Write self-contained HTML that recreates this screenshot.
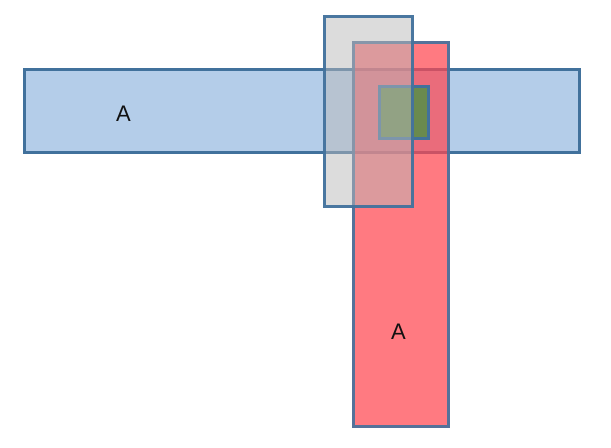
<!DOCTYPE html>
<html><head><style>
body{margin:0;width:611px;height:448px;background:#fff;position:relative;overflow:hidden;font-family:"Liberation Sans",sans-serif}
div.r{position:absolute;box-sizing:border-box;border:3px solid #41719c}
.t{position:absolute;font-size:22px;color:#111}
</style></head><body>
<div class="r" style="left:23px;top:68px;width:558px;height:86px;background:#b4cde9"></div>
<div class="r" style="left:352px;top:41px;width:98px;height:387px;background:rgba(255,70,80,0.72);border-color:rgba(65,113,156,0.9)"></div>
<div class="r" style="left:378px;top:85px;width:52px;height:55px;background:#6a8a4e"></div>
<div class="r" style="left:323px;top:15px;width:91px;height:193px;background:rgba(185,185,185,0.5);border-color:rgba(65,113,156,0.95)"></div>
<div class="t" style="left:116px;top:101px">A</div>
<div class="t" style="left:391px;top:319px">A</div>
</body></html>
